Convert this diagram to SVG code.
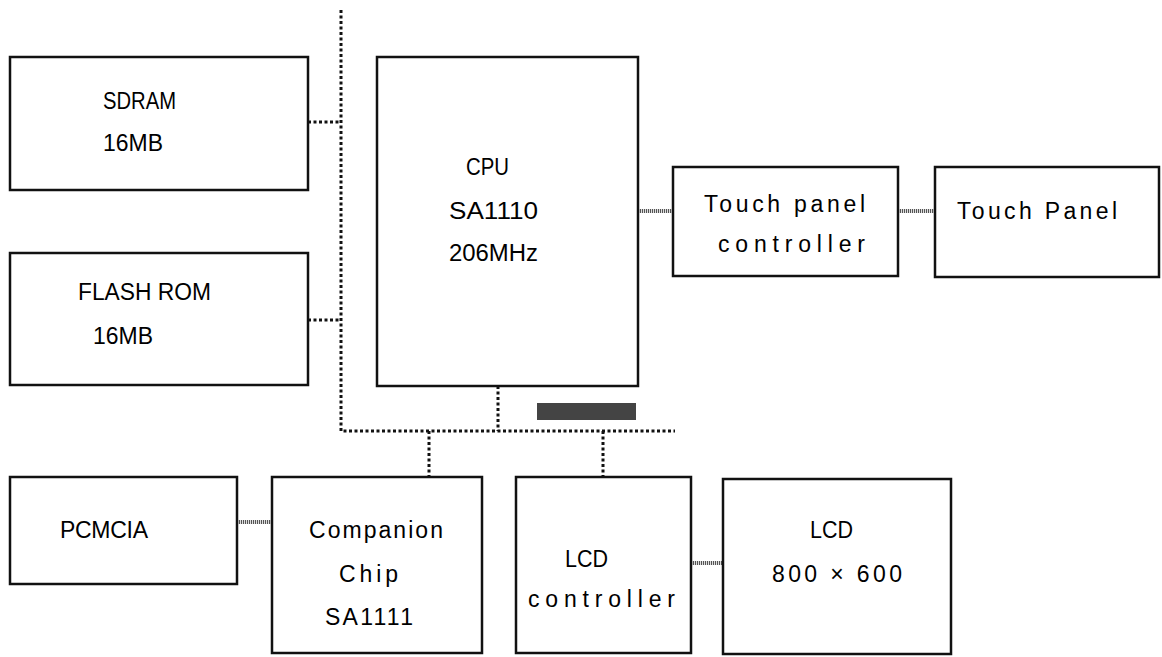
<svg xmlns="http://www.w3.org/2000/svg" width="1162" height="657" viewBox="0 0 1162 657">
<style>
.box{fill:#fff;stroke:#111;stroke-width:2.5}
.t{font-family:"Liberation Sans",Arial,sans-serif;font-size:23px;fill:#000}
.bus{fill:none;stroke:#111;stroke-width:3;stroke-dasharray:3 2.5}
.link{fill:none;stroke:#555;stroke-width:4;stroke-dasharray:1.2 0.8}
</style>
<rect width="1162" height="657" fill="#fff"/>
<g id="connectors">
<path class="bus" d="M341 10V431H675"/>
<path class="bus" d="M308 122H341"/>
<path class="bus" d="M308 320H341"/>
<path class="bus" d="M498 386V431"/>
<path class="bus" d="M429 431V477"/>
<path class="bus" d="M603 431V477"/>
<path class="link" d="M638 211H673"/>
<path class="link" d="M898 211H935"/>
<path class="link" d="M237 522H272"/>
<path class="link" d="M691 563H723"/>
</g>
<rect id="bar" x="537" y="403" width="99" height="17" fill="#444"/>
<g id="sdram">
<rect class="box" x="10" y="57" width="298" height="133"/>
<text class="t" x="103" y="109" textLength="73" lengthAdjust="spacingAndGlyphs">SDRAM</text>
<text class="t" x="103" y="151" textLength="60" lengthAdjust="spacingAndGlyphs">16MB</text>
</g>
<g id="flash">
<rect class="box" x="10" y="253" width="298" height="132"/>
<text class="t" x="78" y="300" textLength="133" lengthAdjust="spacingAndGlyphs">FLASH ROM</text>
<text class="t" x="93" y="344" textLength="60" lengthAdjust="spacingAndGlyphs">16MB</text>
</g>
<g id="cpu">
<rect class="box" x="377" y="57" width="261" height="329"/>
<text class="t" x="466" y="175" textLength="43" lengthAdjust="spacingAndGlyphs">CPU</text>
<text class="t" x="449" y="219" textLength="89" lengthAdjust="spacingAndGlyphs">SA1110</text>
<text class="t" x="449" y="261" textLength="89" lengthAdjust="spacingAndGlyphs">206MHz</text>
</g>
<g id="touch-ctrl">
<rect class="box" x="673" y="167" width="225" height="109"/>
<text class="t" x="704" y="212" textLength="161" lengthAdjust="spacing">Touch panel</text>
<text class="t" x="718" y="252" textLength="147" lengthAdjust="spacing">controller</text>
</g>
<g id="touch-panel">
<rect class="box" x="935" y="167" width="224" height="110"/>
<text class="t" x="957" y="219" textLength="160" lengthAdjust="spacing">Touch Panel</text>
</g>
<g id="pcmcia">
<rect class="box" x="10" y="477" width="227" height="107"/>
<text class="t" x="60" y="538" textLength="88" lengthAdjust="spacing">PCMCIA</text>
</g>
<g id="companion">
<rect class="box" x="272" y="477" width="210" height="176"/>
<text class="t" x="309" y="538" textLength="134" lengthAdjust="spacing">Companion</text>
<text class="t" x="339" y="582" textLength="59" lengthAdjust="spacing">Chip</text>
<text class="t" x="325" y="625" textLength="88" lengthAdjust="spacing">SA1111</text>
</g>
<g id="lcd-ctrl">
<rect class="box" x="516" y="477" width="175" height="176"/>
<text class="t" x="565" y="567" textLength="43" lengthAdjust="spacingAndGlyphs">LCD</text>
<text class="t" x="528" y="607" textLength="147" lengthAdjust="spacing">controller</text>
</g>
<g id="lcd">
<rect class="box" x="723" y="479" width="228" height="175"/>
<text class="t" x="810" y="538" textLength="43" lengthAdjust="spacingAndGlyphs">LCD</text>
<text class="t" x="772" y="582" textLength="130" lengthAdjust="spacing">800 × 600</text>
</g>
</svg>
